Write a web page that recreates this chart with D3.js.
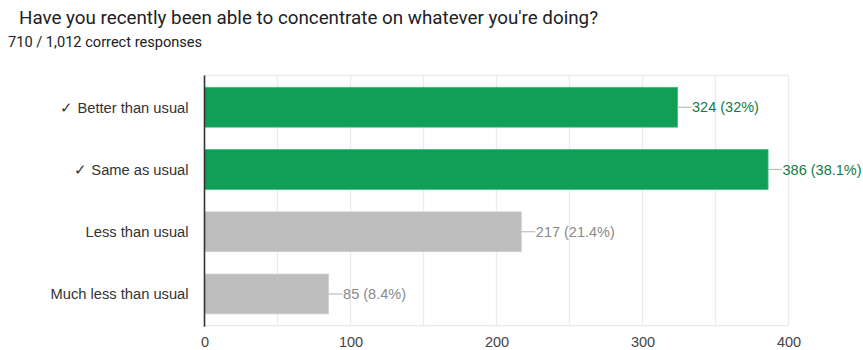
<!DOCTYPE html>
<html>
<head>
<meta charset="utf-8">
<script src="https://cdn.jsdelivr.net/npm/d3@7"></script>
<style>
  html, body { margin: 0; padding: 0; background: #fff; }
  svg { display: block; }
</style>
</head>
<body>
<svg id="chart" width="863" height="350"></svg>
<script>
// Survey question data
const title = "Have you recently been able to concentrate on whatever you're doing?";
const subtitle = "710 / 1,012 correct responses";
const categories = ["Better than usual", "Same as usual", "Less than usual", "Much less than usual"];
const correct = [true, true, false, false];
const counts = [324, 386, 217, 85];
const percents = ["32%", "38.1%", "21.4%", "8.4%"];
const xTicks = [0, 100, 200, 300, 400];
const gridValues = [50, 100, 150, 200, 250, 300, 350, 400];

const svg = d3.select("#chart");
const margin = { left: 204.5, right: 74.5, top: 75.5, bottom: 24.3 };
const W = 863, H = 350;

const x = d3.scaleLinear().domain([0, 400]).range([margin.left, W - margin.right]);
const y = d3.scaleBand()
  .domain(categories)
  .range([margin.top, H - margin.bottom])
  .paddingInner(0.36)
  .paddingOuter(0.19);

// Title and subtitle
svg.append("text")
  .attr("x", 19).attr("y", 23.5)
  .attr("font-family", "Roboto, sans-serif")
  .attr("font-size", 18.8)
  .attr("fill", "#202124")
  .text(title);
svg.append("text")
  .attr("x", 8).attr("y", 46.5)
  .attr("font-family", "Roboto, sans-serif")
  .attr("font-size", 14.6)
  .attr("fill", "#202124")
  .text(subtitle);

// Frame and gridlines
const grid = svg.append("g").attr("stroke", "#ebebeb").attr("stroke-width", 1.3);
grid.append("line")
  .attr("x1", x(0)).attr("x2", x(400))
  .attr("y1", margin.top).attr("y2", margin.top);
grid.append("line")
  .attr("x1", x(0)).attr("x2", x(400))
  .attr("y1", H - margin.bottom).attr("y2", H - margin.bottom);
grid.selectAll("line.v")
  .data(gridValues)
  .join("line")
  .attr("class", "v")
  .attr("x1", d => x(d)).attr("x2", d => x(d))
  .attr("y1", margin.top).attr("y2", H - margin.bottom);

// Bars
const green = "#119e57", greenEdge = "#3fb97a", grey = "#bdbdbd", greyEdge = "#d0d0d0";
svg.append("g")
  .selectAll("rect")
  .data(categories)
  .join("rect")
  .attr("x", x(0))
  .attr("y", d => y(d))
  .attr("width", (d, i) => x(counts[i]) - x(0))
  .attr("height", y.bandwidth())
  .attr("fill", (d, i) => correct[i] ? green : grey)
  .attr("stroke", (d, i) => correct[i] ? greenEdge : greyEdge)
  .attr("stroke-width", 0.8);

// Value annotations with leader lines
const ann = svg.append("g");
ann.selectAll("line")
  .data(categories)
  .join("line")
  .attr("x1", (d, i) => x(counts[i]))
  .attr("x2", (d, i) => x(counts[i]) + 14)
  .attr("y1", d => y(d) + y.bandwidth() / 2)
  .attr("y2", d => y(d) + y.bandwidth() / 2)
  .attr("stroke", "#bdbdbd")
  .attr("stroke-width", 1.2);
ann.selectAll("text")
  .data(categories)
  .join("text")
  .attr("x", (d, i) => x(counts[i]) + 14.5)
  .attr("y", d => y(d) + y.bandwidth() / 2)
  .attr("dy", "0.36em")
  .attr("font-family", "Arial, 'Liberation Sans', sans-serif")
  .attr("font-size", 14.5)
  .attr("fill", (d, i) => correct[i] ? "#137a45" : "#8a8a8a")
  .text((d, i) => `${counts[i]} (${percents[i]})`);

// Category axis labels
svg.append("g")
  .selectAll("text")
  .data(categories)
  .join("text")
  .attr("x", margin.left - 16)
  .attr("y", d => y(d) + y.bandwidth() / 2)
  .attr("dy", "0.36em")
  .attr("text-anchor", "end")
  .attr("font-family", "Arial, 'Liberation Sans', sans-serif")
  .attr("font-size", 14.7)
  .attr("fill", "#333")
  .text((d, i) => (correct[i] ? "\u2713 " : "") + d);

// Value axis
const xAxis = svg.append("g")
  .attr("transform", `translate(0,${H - margin.bottom})`)
  .call(d3.axisBottom(x).tickValues(xTicks).tickSize(0).tickPadding(11).tickFormat(d3.format("d")));
xAxis.select(".domain").remove();
xAxis.selectAll("text")
  .attr("font-family", "Arial, 'Liberation Sans', sans-serif")
  .attr("font-size", 14.5)
  .attr("fill", "#444");

// Baseline at zero
svg.append("line")
  .attr("x1", x(0)).attr("x2", x(0))
  .attr("y1", margin.top).attr("y2", H - margin.bottom + 1)
  .attr("stroke", "#333")
  .attr("stroke-width", 1.6);
</script>
</body>
</html>
